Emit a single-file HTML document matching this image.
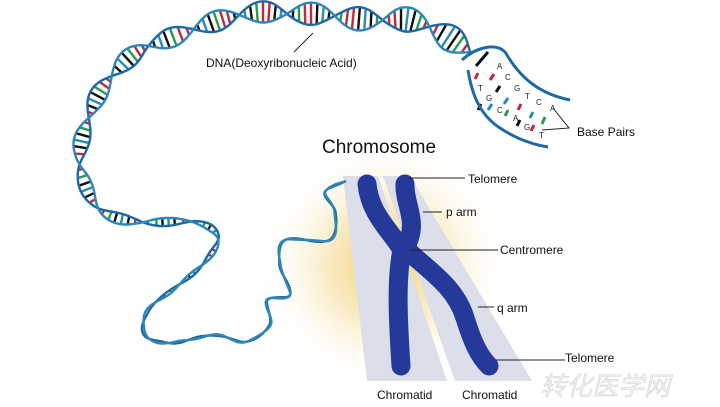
<!DOCTYPE html>
<html><head><meta charset="utf-8"><style>
html,body{margin:0;padding:0;background:#fff;}
svg{display:block;font-family:"Liberation Sans",Arial,sans-serif;}
</style></head><body>
<svg id="s" width="720" height="407" viewBox="0 0 720 407" xmlns="http://www.w3.org/2000/svg">
<defs>
<radialGradient id="glow" cx="385" cy="265" r="125" gradientUnits="userSpaceOnUse">
<stop offset="0" stop-color="#f0cf70" stop-opacity="1"/>
<stop offset="0.45" stop-color="#f6e1a6" stop-opacity="0.7"/>
<stop offset="1" stop-color="#fff" stop-opacity="0"/>
</radialGradient>
</defs>
<rect width="720" height="407" fill="#fff"/>
<ellipse cx="385" cy="265" rx="120" ry="125" fill="url(#glow)"/>
<polygon points="343,176 378,176 447,381 367,381" fill="#dcdfe9"/>
<polygon points="383,176 410,176 532,381 455,381" fill="#dcdfe9"/>
<g id="dna"></g>
<path d="M367,184 C370,215 392,232 402,250 C396,280 398,320 401,366" fill="none" stroke="#25399b" stroke-width="19" stroke-linecap="round"/>
<path d="M405,184 C404,205 420,222 405,248 C425,268 455,285 465,318 C472,340 478,355 489,366" fill="none" stroke="#25399b" stroke-width="19" stroke-linecap="round"/>
<g stroke="#222" stroke-width="1" fill="none">
<line x1="408" y1="178" x2="465" y2="178"/>
<line x1="423" y1="212" x2="442" y2="212"/>
<line x1="410" y1="250" x2="498" y2="250"/>
<line x1="478" y1="307" x2="494" y2="307"/>
<line x1="495" y1="360" x2="565" y2="360"/>
<line x1="313" y1="33" x2="294" y2="52"/>
<polyline points="553,108 569,128 542,130"/>
</g>
<g font-size="12" fill="#111">
<text x="468" y="183">Telomere</text>
<text x="446" y="216">p arm</text>
<text x="500" y="254">Centromere</text>
<text x="497" y="312">q arm</text>
<text x="565" y="362">Telomere</text>
<text x="377" y="399">Chromatid</text>
<text x="462" y="399">Chromatid</text>
<text x="206" y="67">DNA(Deoxyribonucleic Acid)</text>
<text x="577" y="136">Base Pairs</text>
<text x="322" y="153" font-size="19">Chromosome</text>
</g>
<g font-size="8" fill="#222">
<text x="497" y="69">A</text><text x="505" y="80">C</text><text x="514" y="91">G</text><text x="525" y="99">T</text><text x="536" y="105">C</text><text x="550" y="111">A</text>
<text x="478" y="91">T</text><text x="486" y="101">G</text><text x="497" y="113">C</text><text x="513" y="121">A</text><text x="524" y="130">G</text><text x="539" y="138">T</text>
</g>
<text x="540" y="395" font-size="26" font-style="italic" fill="#eee" stroke="#ccc" stroke-width="0.4" font-family="Noto Sans CJK SC,sans-serif">转化医学网</text>
</svg>
<script>
(function(){
var NS="http://www.w3.org/2000/svg",g=document.getElementById("dna");
function el(n,a){var e=document.createElementNS(NS,n);for(var k in a)e.setAttribute(k,a[k]);g.appendChild(e);return e;}
var P=[[470,52],[440,32],[410,20],[380,20],[350,18],[320,14],[290,14],[260,12],[230,17],[200,27],[165,40],[140,50],[120,67],[100,92],[88,120],[80,150],[82,175],[100,210],[140,222],[195,222],[218,237],[205,262],[175,288],[148,310],[145,335],[170,343],[215,335],[245,342],[270,325],[267,300],[290,295],[280,265],[285,240],[330,240],[335,212],[325,192],[346,181]];
var pts=[];
for(var i=0;i<P.length-1;i++){var p0=P[Math.max(0,i-1)],p1=P[i],p2=P[i+1],p3=P[Math.min(P.length-1,i+2)];
for(var t=0;t<1;t+=0.05){var t2=t*t,t3=t2*t;
var x=0.5*((2*p1[0])+(-p0[0]+p2[0])*t+(2*p0[0]-5*p1[0]+4*p2[0]-p3[0])*t2+(-p0[0]+3*p1[0]-3*p2[0]+p3[0])*t3);
var y=0.5*((2*p1[1])+(-p0[1]+p2[1])*t+(2*p0[1]-5*p1[1]+4*p2[1]-p3[1])*t2+(-p0[1]+3*p1[1]-3*p2[1]+p3[1])*t3);
pts.push([x,y]);}}
pts.push(P[P.length-1]);
function ampAt(s){if(s<450)return 13-5*s/450;if(s<600)return 8-4*(s-450)/150;if(s<700)return 4-2.2*(s-600)/100;return Math.max(0.6,1.8-(s-700)/150);}
function perAt(s){return s<640?96:(s<760?60:40);}
var s=0,A=[],B=[],rungs=[];var cols=["#c0283c","#2a9a4a","#111","#2a8ab8","#111","#c0283c"];var lastR=0,ri=0,phase=0,d=0;
for(var i=0;i<pts.length;i++){
 if(i>0){d=Math.hypot(pts[i][0]-pts[i-1][0],pts[i][1]-pts[i-1][1]);s+=d;}
 var j=Math.min(i+1,pts.length-1),k=Math.max(i-1,0);
 var dx=pts[j][0]-pts[k][0],dy=pts[j][1]-pts[k][1],L=Math.hypot(dx,dy)||1;
 var nx=-dy/L,ny=dx/L;
 var amp=ampAt(s);
 if(i>0)phase+=d*2*Math.PI/perAt(s);
 var sn=Math.sin(phase);
 var a=[pts[i][0]+nx*amp*sn,pts[i][1]+ny*amp*sn],b=[pts[i][0]-nx*amp*sn,pts[i][1]-ny*amp*sn];
 A.push(a);B.push(b);
 if(s-lastR>6 && amp>1.5 && Math.abs(sn)>0.3){lastR=s;rungs.push([a,b,cols[ri++%6]]);}
}
rungs.forEach(function(r){el("line",{x1:r[0][0],y1:r[0][1],x2:r[1][0],y2:r[1][1],stroke:r[2],"stroke-width":2.4});});
function pl(arr,c){for(var i=1;i<arr.length;i++){var w=ampAt(i*1)>0?0:0;}
 el("polyline",{points:arr.map(function(p){return p[0].toFixed(1)+","+p[1].toFixed(1)}).join(" "),fill:"none",stroke:c,"stroke-width":2.4,"stroke-linejoin":"round"});}
pl(A,"#1f68a6");pl(B,"#2f86b8");
var rc=[["#c0283c",494,74,490,80],["#111",500,86,496,92],["#2a8ab8",508,98,504,104],["#c0283c",521,104,518,110],["#2a8ab8",533,112,530,118],["#2a9a4a",545,117,542,124],
["#111",481,104,478,110],["#c0283c",478,73,475,79],["#2a8ab8",492,104,488,110],["#2a9a4a",508,110,505,116],["#111",520,120,517,126],["#c0283c",534,125,531,131]];
rc.forEach(function(r){el("line",{x1:r[1],y1:r[2],x2:r[3],y2:r[4],stroke:r[0],"stroke-width":3});});
el("line",{x1:488,y1:52,x2:476,y2:66,stroke:"#111","stroke-width":3});
el("path",{d:"M462,60 C475,48 495,42 505,52 C515,68 530,92 570,100",fill:"none",stroke:"#1f68a6","stroke-width":3});
el("path",{d:"M468,70 C472,95 480,115 500,128 C515,138 530,144 548,147",fill:"none",stroke:"#1f68a6","stroke-width":3});
})();
</script>
</body></html>
